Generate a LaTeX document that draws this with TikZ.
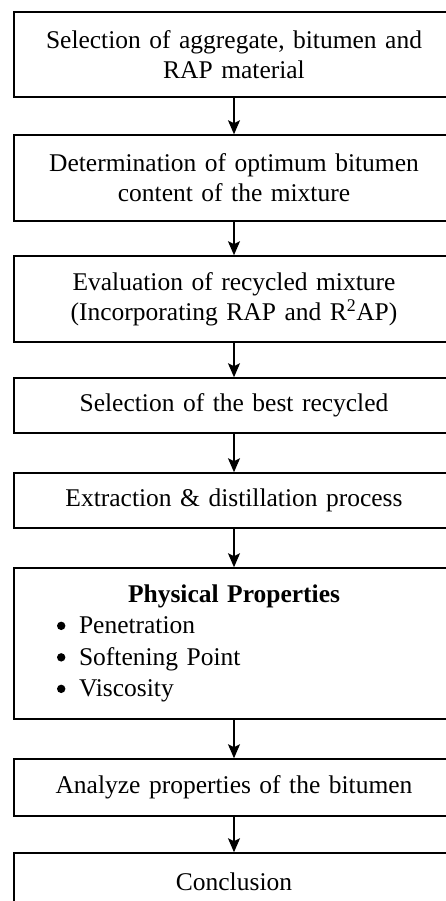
\documentclass[tikz,border=0pt]{standalone}
\usepackage{fontspec}
\setmainfont{Liberation Serif}
\usetikzlibrary{arrows.meta}
\newcommand{\mybul}{\makebox[22pt][l]{\tikz[baseline=0pt]\fill (4.2pt,8pt) circle (4.2pt);}}
\begin{document}
\begin{tikzpicture}[x=1pt,y=1pt,
  stepbox/.style={draw=black, line width=1.5pt, minimum width=440pt, text width=440pt,
    inner sep=0pt, align=center, font=\fontsize{25.5}{30}\selectfont},
  arr/.style={line width=1.5pt, -{Stealth[length=14pt,width=12pt,inset=3pt]}}]
\clip (0,0) rectangle (446,-901);
\node[stepbox, minimum height=85pt] (b1) at (234,-54.5) {Selection of aggregate, bitumen and\\RAP material};
\node[stepbox, minimum height=86pt] (b2) at (234,-178) {Determination of optimum bitumen\\content of the mixture};
\node[stepbox, minimum height=86pt] (b3) at (234,-299) {Evaluation of recycled mixture\\(Incorporating RAP and R\textsuperscript{2}AP)};
\node[stepbox, minimum height=55pt] (b4) at (234,-405.5) {Selection of the best recycled};
\node[stepbox, minimum height=55pt] (b5) at (234,-500.5) {Extraction \& distillation process};
\node[stepbox, minimum height=151pt] (b6) at (234,-643.5) {\fontsize{25.5}{31.5}\selectfont\textbf{Physical Properties}\par
  \raggedright
  \hspace*{43pt}\mybul Penetration\par
  \hspace*{43pt}\mybul Softening Point\par
  \hspace*{43pt}\mybul Viscosity\par};
\node[stepbox, minimum height=57pt] (b7) at (234,-787.5) {Analyze properties of the bitumen};
\node[stepbox, minimum height=57pt] (b8) at (234,-881.5) {Conclusion};
\draw[arr] (b1) -- (b2);
\draw[arr] (b2) -- (b3);
\draw[arr] (b3) -- (b4);
\draw[arr] (b4) -- (b5);
\draw[arr] (b5) -- (b6);
\draw[arr] (b6) -- (b7);
\draw[arr] (b7) -- (b8);
\end{tikzpicture}
\end{document}
